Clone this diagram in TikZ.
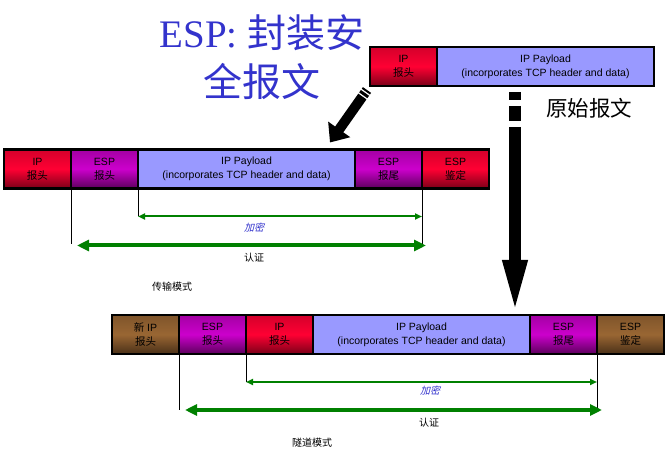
\documentclass[tikz,border=0pt]{standalone}
\usepackage{fontspec}
\setmainfont{Liberation Sans}
\newfontfamily\titlefont{Liberation Serif}
\newfontfamily\cjk{Noto Sans CJK SC}
\newfontfamily\cjkslant{Noto Sans CJK SC}[FakeSlant=0.25]
\usetikzlibrary{arrows.meta,calc,positioning}

\definecolor{redmid}{HTML}{FF0033}
\definecolor{redtop}{HTML}{D4002B}
\definecolor{redbot}{HTML}{7A0018}
\definecolor{purmid}{HTML}{CC00CC}
\definecolor{purtop}{HTML}{A300A3}
\definecolor{purbot}{HTML}{5C005C}
\definecolor{brnmid}{HTML}{996633}
\definecolor{brntop}{HTML}{7F552B}
\definecolor{brnbot}{HTML}{4A3018}
\definecolor{payblue}{HTML}{9999FF}
\definecolor{titleblue}{HTML}{3333CC}
\definecolor{arrowgreen}{HTML}{008000}

\tikzset{
  field/.style={draw=black, line width=2.2pt, minimum width=67pt, minimum height=39pt,
    inner sep=0pt, outer sep=0pt, align=center, font=\fontsize{10.5}{14}\selectfont},
  redhdr/.style={field, top color=redtop, bottom color=redbot, middle color=redmid},
  esphdr/.style={field, top color=purtop, bottom color=purbot, middle color=purmid},
  brnhdr/.style={field, top color=brntop, bottom color=brnbot, middle color=brnmid},
  paybox/.style={field, fill=payblue, minimum width=217pt},
  titletext/.style={text=titleblue, align=center, inner sep=0pt,
    font=\titlefont\fontsize{39}{49}\selectfont},
  note/.style={inner sep=0pt, font=\cjk\fontsize{21.5}{24}\selectfont},
  enctext/.style={inner sep=0pt, text=titleblue, font=\cjkslant\fontsize{10}{12}\selectfont},
  plaintext/.style={inner sep=0pt, font=\cjk\fontsize{10}{12}\selectfont},
  guide/.style={draw=black, line width=1pt},
  encarrow/.style={draw=arrowgreen, line width=2pt, {Triangle[length=7pt,width=6pt]}-{Triangle[length=7pt,width=6pt]}},
  autharrow/.style={draw=arrowgreen, line width=4pt, {Triangle[length=12pt,width=11pt]}-{Triangle[length=12pt,width=11pt]}},
  bigarrow/.style={draw=black, line width=11.5pt, -{Triangle[length=55pt,width=22pt]}},
  slantarrow/.style={draw=black, line width=10pt, -{Triangle[length=16pt,width=26pt]}}
}

\begin{document}
\begin{tikzpicture}[x=1pt,y=-1pt]
  %%%%% START %%%%%
  \useasboundingbox (0,0) rectangle (665,473);

  \node[titletext] (head) at (262,57) {ESP: {\cjk 封装安}\\{\cjk 全报文}};

  % original packet
  \node[redhdr, anchor=west] (oip) at (370,66.5) {IP\\{\cjk 报头}};
  \node[paybox, right=0pt of oip] (opay) {IP Payload\\(incorporates TCP header and data)};
  \node[note] (orig) at (589,108) {原始报文};

  % transport mode
  \node[redhdr, anchor=west] (tip) at (4,169) {IP\\{\cjk 报头}};
  \node[esphdr, right=0pt of tip] (tesp) {ESP\\{\cjk 报头}};
  \node[paybox, right=0pt of tesp] (tpay) {IP Payload\\(incorporates TCP header and data)};
  \node[esphdr, right=0pt of tpay] (ttrl) {ESP\\{\cjk 报尾}};
  \node[redhdr, right=0pt of ttrl] (tauth) {ESP\\{\cjk 鉴定}};

  \coordinate (tv1) at ($(tesp.south west)+(0,56)$);
  \coordinate (tv2) at ($(tpay.south west)+(0,28)$);
  \coordinate (tv3) at ($(tauth.south west)+(0,58)$);
  \draw[guide] (tesp.south west) -- (tv1);
  \draw[guide] (tpay.south west) -- (tv2);
  \draw[guide] (tauth.south west) -- (tv3);
  \coordinate (tencr) at (tv3 |- tv2);
  \draw[encarrow] (tv2) -- (tencr);
  \coordinate (tauthl) at ($(tv1)+(6,1)$);
  \coordinate (tauthr) at ($(tv3)+(4,-1)$);
  \draw[autharrow] (tauthl) -- (tauthr);
  \node[enctext] (tenc) at (254,228) {加密};
  \node[plaintext] (tver) at (254,258) {认证};
  \node[plaintext] (tmode) at (172,287) {传输模式};

  % tunnel mode
  \node[brnhdr, anchor=west] (nnew) at (112,334.5) {{\cjk 新} IP\\{\cjk 报头}};
  \node[esphdr, right=0pt of nnew] (nesp) {ESP\\{\cjk 报头}};
  \node[redhdr, right=0pt of nesp] (nip) {IP\\{\cjk 报头}};
  \node[paybox, right=0pt of nip] (npay) {IP Payload\\(incorporates TCP header and data)};
  \node[esphdr, right=0pt of npay] (ntrl) {ESP\\{\cjk 报尾}};
  \node[brnhdr, right=0pt of ntrl] (nauth) {ESP\\{\cjk 鉴定}};

  \coordinate (nv1) at ($(nesp.south west)+(0,56)$);
  \coordinate (nv2) at ($(nip.south west)+(0,28)$);
  \coordinate (nv3) at ($(nauth.south west)+(0,57)$);
  \draw[guide] (nesp.south west) -- (nv1);
  \draw[guide] (nip.south west) -- (nv2);
  \draw[guide] (nauth.south west) -- (nv3);
  \coordinate (nencr) at (nv3 |- nv2);
  \draw[encarrow] (nv2) -- (nencr);
  \coordinate (nauthl) at ($(nv1)+(6,0)$);
  \coordinate (nauthr) at ($(nv3)+(5,-1)$);
  \draw[autharrow] (nauthl) -- (nauthr);
  \node[enctext] (nenc) at (430,391) {加密};
  \node[plaintext] (nver) at (429,423) {认证};
  \node[plaintext] (nmode) at (312,443) {隧道模式};

  % big arrows
  \coordinate (dtop) at ($(opay.south west)+(78,6)$);
  \coordinate (dend) at (dtop |- npay.north);
  \draw[bigarrow, dash pattern=on 8pt off 6pt on 15pt off 6pt on 1000pt off 0pt] (dtop) -- (dend);
  \coordinate (gtop) at ($(oip.south west)+(-3,4)$);
  \coordinate (gend) at ($(tpay.north west)+(192,-7)$);
  \draw[slantarrow, dash pattern=on 2pt off 1.5pt on 3pt off 1.5pt on 1000pt off 0pt] (gtop) -- (gend);

  %%%%% END %%%%%
\end{tikzpicture}
\end{document}
